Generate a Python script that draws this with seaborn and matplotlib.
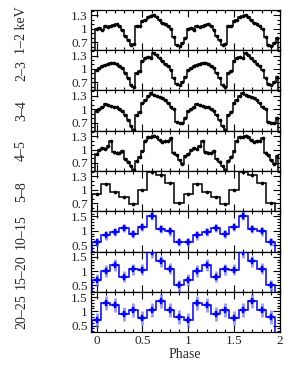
import numpy as np
import pandas as pd
import seaborn as sns
import matplotlib.pyplot as plt
from matplotlib.ticker import MultipleLocator

# one pulse cycle per band, drawn twice (phase 0-2)
band_labels = ['1\u20132 keV', '2\u20133', '3\u20134', '4\u20135', '5\u20138',
               '10\u201315', '15\u201320', '20\u201325']

rate_1_2 = [0.99, 1.01, 0.98, 1.06, 1.03, 1.07, 1.08, 1.10, 1.07, 0.97, 0.84,
            0.75, 0.64, 0.65, 1.05, 1.05, 1.16, 1.20, 1.25, 1.29, 1.31, 1.25,
            1.20, 1.13, 1.10, 1.05, 1.00, 0.82, 0.63, 0.61, 0.69, 0.80]
rate_2_3 = [0.97, 1.01, 1.06, 1.09, 1.11, 1.13, 1.14, 1.12, 1.07, 1.01, 0.92,
            0.80, 0.65, 0.60, 0.92, 0.96, 1.18, 1.25, 1.26, 1.25, 1.36, 1.31,
            1.24, 1.18, 1.12, 1.07, 0.98, 0.80, 0.67, 0.65, 0.70, 0.82]
rate_3_4 = [0.96, 1.01, 1.05, 1.12, 1.10, 1.07, 1.06, 1.04, 1.01, 0.97, 0.86,
            0.75, 0.62, 0.54, 0.87, 0.93, 1.13, 1.21, 1.30, 1.36, 1.32, 1.29,
            1.27, 1.24, 1.20, 1.15, 1.06, 1.00, 0.72, 0.69, 0.70, 0.80]
rate_4_5 = [0.91, 0.99, 1.03, 1.02, 1.08, 1.19, 0.94, 0.93, 0.93, 0.96, 0.79,
            0.73, 0.63, 0.55, 0.75, 0.84, 0.97, 1.20, 1.27, 1.29, 1.31, 1.29,
            1.21, 1.17, 1.18, 1.20, 1.25, 0.93, 0.87, 0.76, 0.68, 0.85]
rate_5_8 = [0.90, 1.13, 0.95, 0.84, 0.69, 0.99, 1.40, 1.32, 1.16, 0.71]
rate_10_15 = [0.61, 0.84, 0.96, 1.10, 0.88, 1.13, 1.53, 1.06, 0.98, 0.60]
rate_15_20 = [0.69, 1.00, 1.21, 0.80, 1.06, 1.05, 1.65, 1.34, 1.08, 0.50]
rate_20_25 = [0.69, 1.28, 1.22, 0.90, 1.04, 0.76, 1.04, 1.36, 1.04, 0.80]

err_1_2, err_2_3, err_3_4, err_4_5 = 0.012, 0.012, 0.015, 0.03
err_5_8 = 0.025
err_10_15, err_15_20, err_20_25 = 0.15, 0.2, 0.24

rates = [rate_1_2, rate_2_3, rate_3_4, rate_4_5, rate_5_8,
         rate_10_15, rate_15_20, rate_20_25]
errors = [err_1_2, err_2_3, err_3_4, err_4_5, err_5_8,
          err_10_15, err_15_20, err_20_25]

sns.set_theme(style='ticks')
plt.rcParams['font.family'] = ['Liberation Serif', 'DejaVu Serif']

fig, axes = plt.subplots(8, 1, figsize=(3.0, 3.65), dpi=100, sharex=True)
fig.subplots_adjust(left=0.302, right=0.933, top=0.973, bottom=0.090, hspace=0)

for i, ax in enumerate(axes):
    v = np.array(rates[i])
    n = len(v)
    dphi = 1.0 / n
    phase = np.concatenate([np.arange(n) * dphi, 1 + np.arange(n) * dphi])
    vals = np.tile(v, 2)
    df = pd.DataFrame({'phase': phase, 'rate': vals})
    blue = i >= 5
    col = 'blue' if blue else 'black'
    edges = np.concatenate([phase - dphi / 2, [phase[-1] + dphi / 2]])
    if blue:
        ax.errorbar(phase, vals, yerr=errors[i], fmt='none', ecolor='#6f6fff',
                    alpha=0.7, elinewidth=2.0, capsize=0, zorder=1)
        ax.stairs(vals, edges, color=col, lw=1.1, zorder=2)
        sns.scatterplot(data=df, x='phase', y='rate', ax=ax, marker='P',
                        s=14, color=col, edgecolor=col, linewidth=0.3, zorder=3)
    else:
        ax.errorbar(phase, vals, yerr=errors[i], fmt='none', ecolor='0.3',
                    elinewidth=0.8, capsize=0, zorder=1)
        ax.stairs(vals, edges, color=col, lw=1.1, zorder=2)
        sns.scatterplot(data=df, x='phase', y='rate', ax=ax, marker='o',
                        s=7, color=col, edgecolor=col, linewidth=0, zorder=3)

    if blue:
        ax.set_ylim(0.27, 1.68)
        ax.set_yticks([0.5, 1, 1.5])
        ax.set_yticklabels(['0.5', '1', '1.5'])
    else:
        ax.set_ylim(0.52, 1.42)
        ax.set_yticks([0.7, 1, 1.3])
        ax.set_yticklabels(['0.7', '1', '1.3'])
    ax.yaxis.set_minor_locator(MultipleLocator(0.1))
    ax.set_xlim(-0.065, 2.0)
    ax.set_xticks([0, 0.5, 1, 1.5, 2])
    ax.xaxis.set_minor_locator(MultipleLocator(0.1))
    ax.tick_params(which='both', direction='in', top=True, right=True,
                   labelsize=9.5, pad=2, width=0.8, color='black')
    ax.tick_params(which='major', length=5)
    ax.tick_params(which='minor', length=2.5)
    for s in ax.spines.values():
        s.set_linewidth(0.9)
        s.set_color('black')
    ax.set_ylabel(band_labels[i], fontsize=10)
    ax.yaxis.set_label_coords(-0.33, 0.5)
    ax.set_xlabel('')

axes[-1].set_xticklabels(['0', '0.5', '1', '1.5', '2'])
axes[-1].set_xlabel('Phase', fontsize=10, labelpad=1)

fig.savefig('out.png', dpi=100)
